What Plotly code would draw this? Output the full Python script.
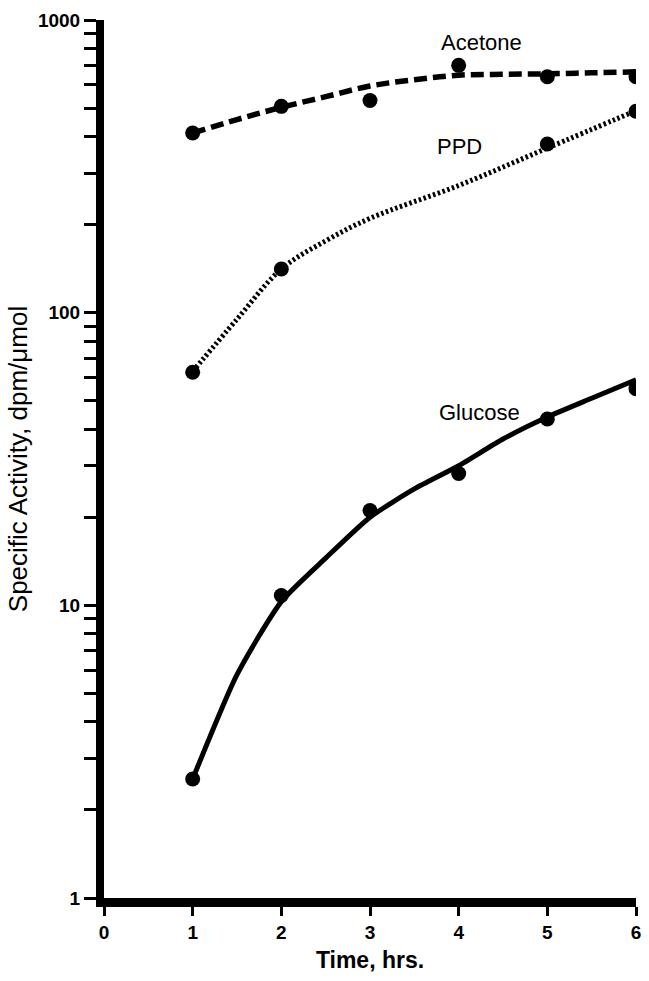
import math
import plotly.graph_objects as go

# ---- data ----
time_pts = [1, 2, 3, 4, 5, 6]
acetone_pts = [411, 507, 531, 700, 640, 640]
ppd_time = [1, 2, 5, 6]
ppd_pts = [62.6, 141, 377, 488]
glucose_pts = [2.55, 10.8, 21.1, 28.2, 43.3, 55]

# fitted (hand-drawn) curves
acetone_curve_x = [1, 1.5, 2, 2.5, 3, 3.5, 4, 4.5, 5, 5.5, 6]
acetone_curve_y = [411, 457, 503, 547, 595, 625, 648, 652, 655, 660, 665]
ppd_curve_x = [1, 1.5, 2, 2.5, 3, 4, 5, 6]
ppd_curve_y = [63, 95, 141, 176, 210, 272, 365, 490]
glucose_curve_x = [1, 1.5, 2, 2.5, 3, 3.5, 4, 4.5, 5, 5.5, 6]
glucose_curve_y = [2.55, 5.8, 10.3, 14.5, 20, 25, 30, 37, 44, 51, 59]

x_ticks = [0, 1, 2, 3, 4, 5, 6]
y_tickvals = [m * 10 ** d for d in range(0, 3) for m in range(1, 10)] + [1000]
y_ticktext = [str(v) if v in (1, 10, 100, 1000) else "" for v in y_tickvals]

labels = ["Acetone", "PPD", "Glucose"]
label_x = [4.26, 4.01, 4.23]
label_y = [841, 370, 45.7]

FONT = "Liberation Sans, Arial, Helvetica, sans-serif"
BLACK = "#000000"

fig = go.Figure()
fig.add_trace(go.Scatter(x=acetone_curve_x, y=acetone_curve_y, mode="lines",
                         line=dict(color=BLACK, width=5.5, dash="13px,6px", shape="spline"),
                         showlegend=False, hoverinfo="skip"))
fig.add_trace(go.Scatter(x=ppd_curve_x, y=ppd_curve_y, mode="lines",
                         line=dict(color=BLACK, width=5, dash="2.5px,2.5px", shape="spline"),
                         showlegend=False, hoverinfo="skip"))
fig.add_trace(go.Scatter(x=glucose_curve_x, y=glucose_curve_y, mode="lines",
                         line=dict(color=BLACK, width=5, shape="spline", smoothing=0.6),
                         showlegend=False, hoverinfo="skip"))
for xs, ys, name in [(time_pts, acetone_pts, "Acetone"), (ppd_time, ppd_pts, "PPD"),
                     (time_pts, glucose_pts, "Glucose")]:
    fig.add_trace(go.Scatter(x=xs, y=ys, mode="markers", name=name,
                             marker=dict(color=BLACK, size=15), showlegend=False))

for t, lx, ly in zip(labels, label_x, label_y):
    fig.add_annotation(x=lx, y=math.log10(ly), text=t, showarrow=False,
                       font=dict(family=FONT, size=22, color=BLACK))

fig.update_layout(
    width=649, height=981,
    margin=dict(l=104, r=8, t=20, b=78),
    plot_bgcolor="white", paper_bgcolor="white",
    font=dict(family=FONT, color=BLACK),
    xaxis=dict(range=[0, 6], tickvals=x_ticks, ticktext=[str(v) for v in x_ticks],
               showgrid=False, zeroline=False, showline=True, linecolor=BLACK, linewidth=9,
               ticks="outside", ticklen=9, tickwidth=3, tickcolor=BLACK,
               tickfont=dict(family=FONT, size=19, color=BLACK, weight="bold"),
               title=dict(text="Time, hrs.", font=dict(family=FONT, size=23, color=BLACK, weight="bold"),
                          standoff=14)),
    yaxis=dict(type="log", range=[0, 3], tickvals=y_tickvals, ticktext=y_ticktext,
               showgrid=False, zeroline=False, showline=True, linecolor=BLACK, linewidth=8,
               ticks="outside", ticklen=12, tickwidth=3, tickcolor=BLACK,
               tickfont=dict(family=FONT, size=19, color=BLACK, weight="bold"),
               title=dict(text="Specific Activity, dpm/μmol", font=dict(family=FONT, size=26, color=BLACK),
                          standoff=6)),
)

fig.write_html("out.html", config={"displayModeBar": False},
               post_script="document.body.style.margin='0';")
